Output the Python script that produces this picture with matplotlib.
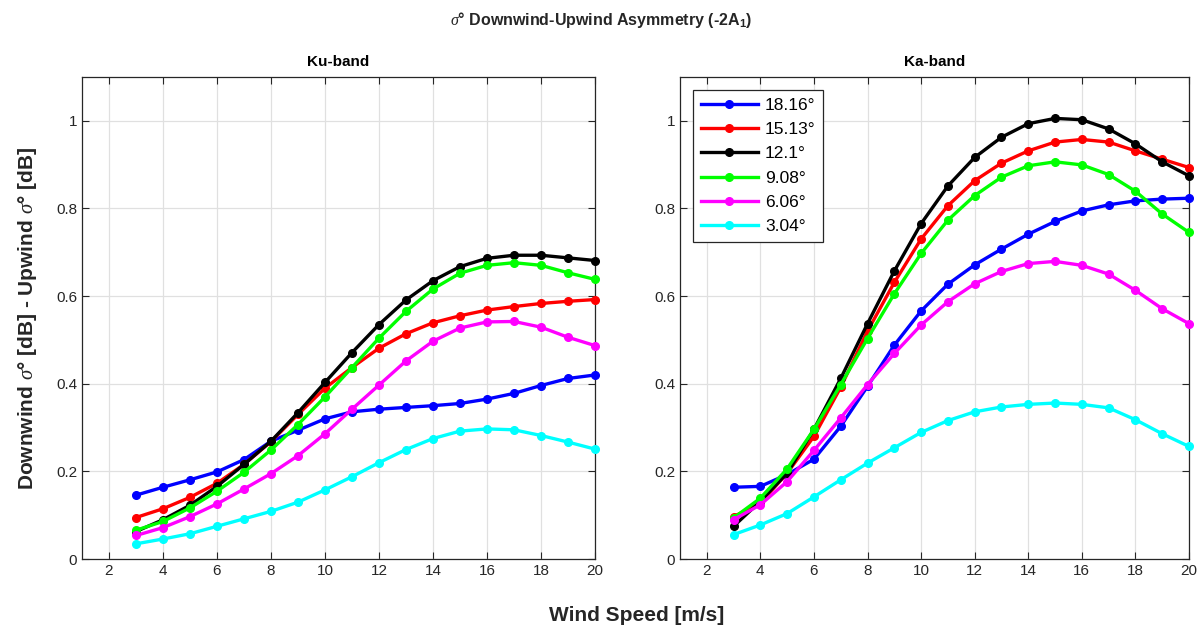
import numpy as np
import matplotlib
matplotlib.use("Agg")
import matplotlib.pyplot as plt
from matplotlib.ticker import FormatStrFormatter

plt.rcParams["font.family"] = ["Liberation Sans", "DejaVu Sans"]
plt.rcParams["mathtext.fontset"] = "custom"
plt.rcParams["mathtext.rm"] = "Liberation Sans"
plt.rcParams["mathtext.it"] = "Liberation Serif:italic"
plt.rcParams["mathtext.bf"] = "Liberation Sans:bold"

# ── Data ───────────────────────────────────────────────────────────────────
wind = np.arange(3, 21)
angles = ["18.16°", "15.13°", "12.1°", "9.08°", "6.06°", "3.04°"]
colors = ["#0000ff", "#ff0000", "#000000", "#00ff00", "#ff00ff", "#00ffff"]

ku_1816 = [0.146, 0.164, 0.181, 0.199, 0.227, 0.269, 0.294, 0.320, 0.336,
           0.342, 0.346, 0.350, 0.355, 0.365, 0.378, 0.396, 0.412, 0.420]
ku_1513 = [0.095, 0.115, 0.141, 0.173, 0.216, 0.268, 0.330, 0.390, 0.437,
           0.481, 0.514, 0.539, 0.555, 0.568, 0.576, 0.583, 0.588, 0.592]
ku_1210 = [0.063, 0.090, 0.123, 0.166, 0.216, 0.269, 0.334, 0.403, 0.471,
           0.535, 0.591, 0.635, 0.667, 0.686, 0.693, 0.693, 0.687, 0.681]
ku_0908 = [0.066, 0.086, 0.117, 0.155, 0.198, 0.249, 0.307, 0.370, 0.437,
           0.504, 0.565, 0.616, 0.652, 0.670, 0.676, 0.670, 0.653, 0.638]
ku_0606 = [0.054, 0.072, 0.097, 0.126, 0.160, 0.195, 0.236, 0.286, 0.342,
           0.397, 0.452, 0.497, 0.527, 0.541, 0.542, 0.529, 0.506, 0.487]
ku_0304 = [0.035, 0.046, 0.058, 0.075, 0.092, 0.109, 0.130, 0.158, 0.188,
           0.220, 0.250, 0.275, 0.292, 0.297, 0.295, 0.282, 0.267, 0.251]

ka_1816 = [0.164, 0.166, 0.193, 0.228, 0.303, 0.394, 0.488, 0.566, 0.627,
           0.671, 0.707, 0.741, 0.770, 0.794, 0.808, 0.817, 0.821, 0.823]
ka_1513 = [0.097, 0.128, 0.196, 0.280, 0.392, 0.520, 0.631, 0.730, 0.806,
           0.863, 0.903, 0.931, 0.951, 0.957, 0.951, 0.931, 0.912, 0.893]
ka_1210 = [0.075, 0.132, 0.196, 0.296, 0.412, 0.537, 0.657, 0.765, 0.851,
           0.916, 0.962, 0.993, 1.005, 1.002, 0.981, 0.947, 0.906, 0.874]
ka_0908 = [0.094, 0.139, 0.206, 0.296, 0.398, 0.503, 0.605, 0.697, 0.773,
           0.829, 0.871, 0.897, 0.906, 0.899, 0.877, 0.839, 0.787, 0.745]
ka_0606 = [0.090, 0.124, 0.177, 0.248, 0.322, 0.398, 0.469, 0.534, 0.587,
           0.628, 0.656, 0.674, 0.679, 0.670, 0.650, 0.613, 0.571, 0.537]
ka_0304 = [0.056, 0.078, 0.104, 0.142, 0.181, 0.219, 0.254, 0.289, 0.316,
           0.336, 0.347, 0.353, 0.356, 0.353, 0.345, 0.318, 0.286, 0.257]

ku_series = [ku_1816, ku_1513, ku_1210, ku_0908, ku_0606, ku_0304]
ka_series = [ka_1816, ka_1513, ka_1210, ka_0908, ka_0606, ka_0304]

# ── Plot ───────────────────────────────────────────────────────────────────
fig = plt.figure(figsize=(12.02, 6.29), dpi=100)
ax_ku = fig.add_axes([0.0682, 0.111, 0.4268, 0.767])
ax_ka = fig.add_axes([0.5657, 0.111, 0.4235, 0.767])

dark = "#262626"
for ax, series, title in [(ax_ku, ku_series, "Ku-band"), (ax_ka, ka_series, "Ka-band")]:
    for vals, col, lab in zip(series, colors, angles):
        ax.plot(wind, vals, color=col, lw=2.4, marker="o", ms=5.5, label=lab,
                clip_on=False, zorder=3)
    ax.set_xlim(1, 20)
    ax.set_ylim(0, 1.1)
    ax.set_xticks(np.arange(2, 21, 2))
    ax.set_yticks(np.arange(0, 1.01, 0.2))
    ax.yaxis.set_major_formatter(FormatStrFormatter("%g"))
    ax.grid(True, color="#e0e0e0", lw=0.9)
    ax.set_axisbelow(True)
    ax.tick_params(direction="in", top=True, right=True, labelsize=11,
                   colors=dark, length=5)
    for s in ax.spines.values():
        s.set_color(dark)
        s.set_linewidth(0.9)
    ax.set_title(title, fontsize=11, fontweight="bold", color="black", pad=8)

leg = ax_ka.legend(loc="upper left", fontsize=12.5, handlelength=3.3,
                   frameon=True, fancybox=False, borderaxespad=0.75,
                   labelspacing=0.53, handletextpad=0.4, borderpad=0.45)
leg.get_frame().set_edgecolor(dark)
leg.get_frame().set_linewidth(0.9)
leg.get_frame().set_alpha(1)
leg.set_zorder(5)

fig.text(0.5, 0.968, r"$\sigma$° Downwind-Upwind Asymmetry (-2A$_\mathbf{1}$)",
         ha="center", va="center", fontsize=11.5, fontweight="bold", color=dark)
fig.text(0.53, 0.022, "Wind Speed [m/s]", ha="center", va="center",
         fontsize=15, fontweight="bold", color=dark)
fig.text(0.023, 0.494, r"Downwind $\sigma$° [dB] - Upwind $\sigma$° [dB]",
         ha="center", va="center", rotation=90, fontsize=15,
         fontweight="bold", color=dark)

fig.savefig("out.png", dpi=100)
